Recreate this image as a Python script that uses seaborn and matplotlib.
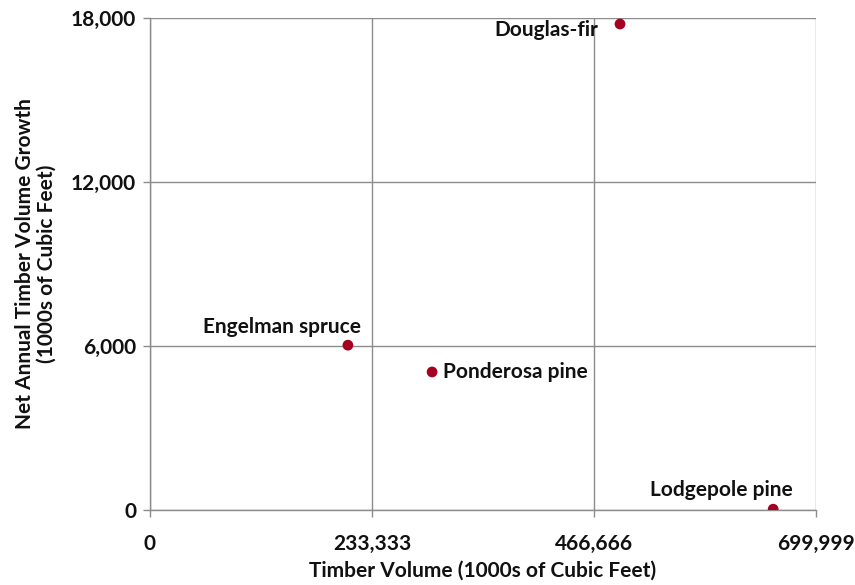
import matplotlib
matplotlib.use("Agg")
import matplotlib.pyplot as plt
import seaborn as sns
import pandas as pd
from matplotlib.ticker import FuncFormatter

species = ["Douglas-fir", "Engelman spruce", "Ponderosa pine", "Lodgepole pine"]
timber_volume = [494000, 208000, 296500, 655000]
net_growth = [17780, 6030, 5050, 30]

x_ticks = [0, 233333, 466666, 699999]
y_ticks = [0, 6000, 12000, 18000]

# label placement (pixel offsets from each point, alignment)
label_pos = {
    "Douglas-fir": (-22, -6, "right"),
    "Engelman spruce": (-66, 18, "center"),
    "Ponderosa pine": (11, 0, "left"),
    "Lodgepole pine": (-52, 19, "center"),
}

df = pd.DataFrame({"species": species, "volume": timber_volume, "growth": net_growth})

sns.set_theme(style="white")
plt.rcParams["font.family"] = ["Lato", "DejaVu Sans"]

fig = plt.figure(figsize=(8.55, 5.85), dpi=100)
ax = fig.add_axes([150 / 855, 75 / 585, 666 / 855, 492 / 585])

sns.scatterplot(data=df, x="volume", y="growth", ax=ax, color="#A50021",
                s=60, edgecolor="none", zorder=3, legend=False)

txt_color = "#111111"
for name, xv, yv in zip(species, timber_volume, net_growth):
    dx, dy, ha = label_pos[name]
    ax.annotate(name, (xv, yv), xytext=(dx, dy), textcoords="offset pixels",
                ha=ha, va="center", fontsize=15, fontweight="bold", color=txt_color)

ax.set_xlim(0, 699999)
ax.set_ylim(0, 18000)
ax.set_xticks(x_ticks)
ax.set_yticks(y_ticks)
fmt = FuncFormatter(lambda v, p: f"{int(round(v)):,}")
ax.xaxis.set_major_formatter(fmt)
ax.yaxis.set_major_formatter(fmt)

ax.grid(True, color="#8c8c8c", linewidth=1)
ax.set_axisbelow(True)
for side in ["top", "right"]:
    ax.spines[side].set_visible(False)
for side in ["left", "bottom"]:
    ax.spines[side].set_color("#8c8c8c")
    ax.spines[side].set_linewidth(1)

ax.tick_params(axis="both", which="major", length=5, width=1, color="#8c8c8c",
               direction="out", labelsize=15, labelcolor=txt_color, pad=5)
ax.tick_params(axis="x", bottom=True, pad=12)
ax.tick_params(axis="y", left=True)
for lbl in ax.get_xticklabels() + ax.get_yticklabels():
    lbl.set_fontweight("bold")

ax.set_xlabel("Timber Volume (1000s of Cubic Feet)", fontsize=15,
              fontweight="bold", color=txt_color, labelpad=5)
ax.set_ylabel("Net Annual Timber Volume Growth\n(1000s of Cubic Feet)", fontsize=15,
              fontweight="bold", color=txt_color, labelpad=10, linespacing=1.15)

fig.savefig("out.png", dpi=100)
